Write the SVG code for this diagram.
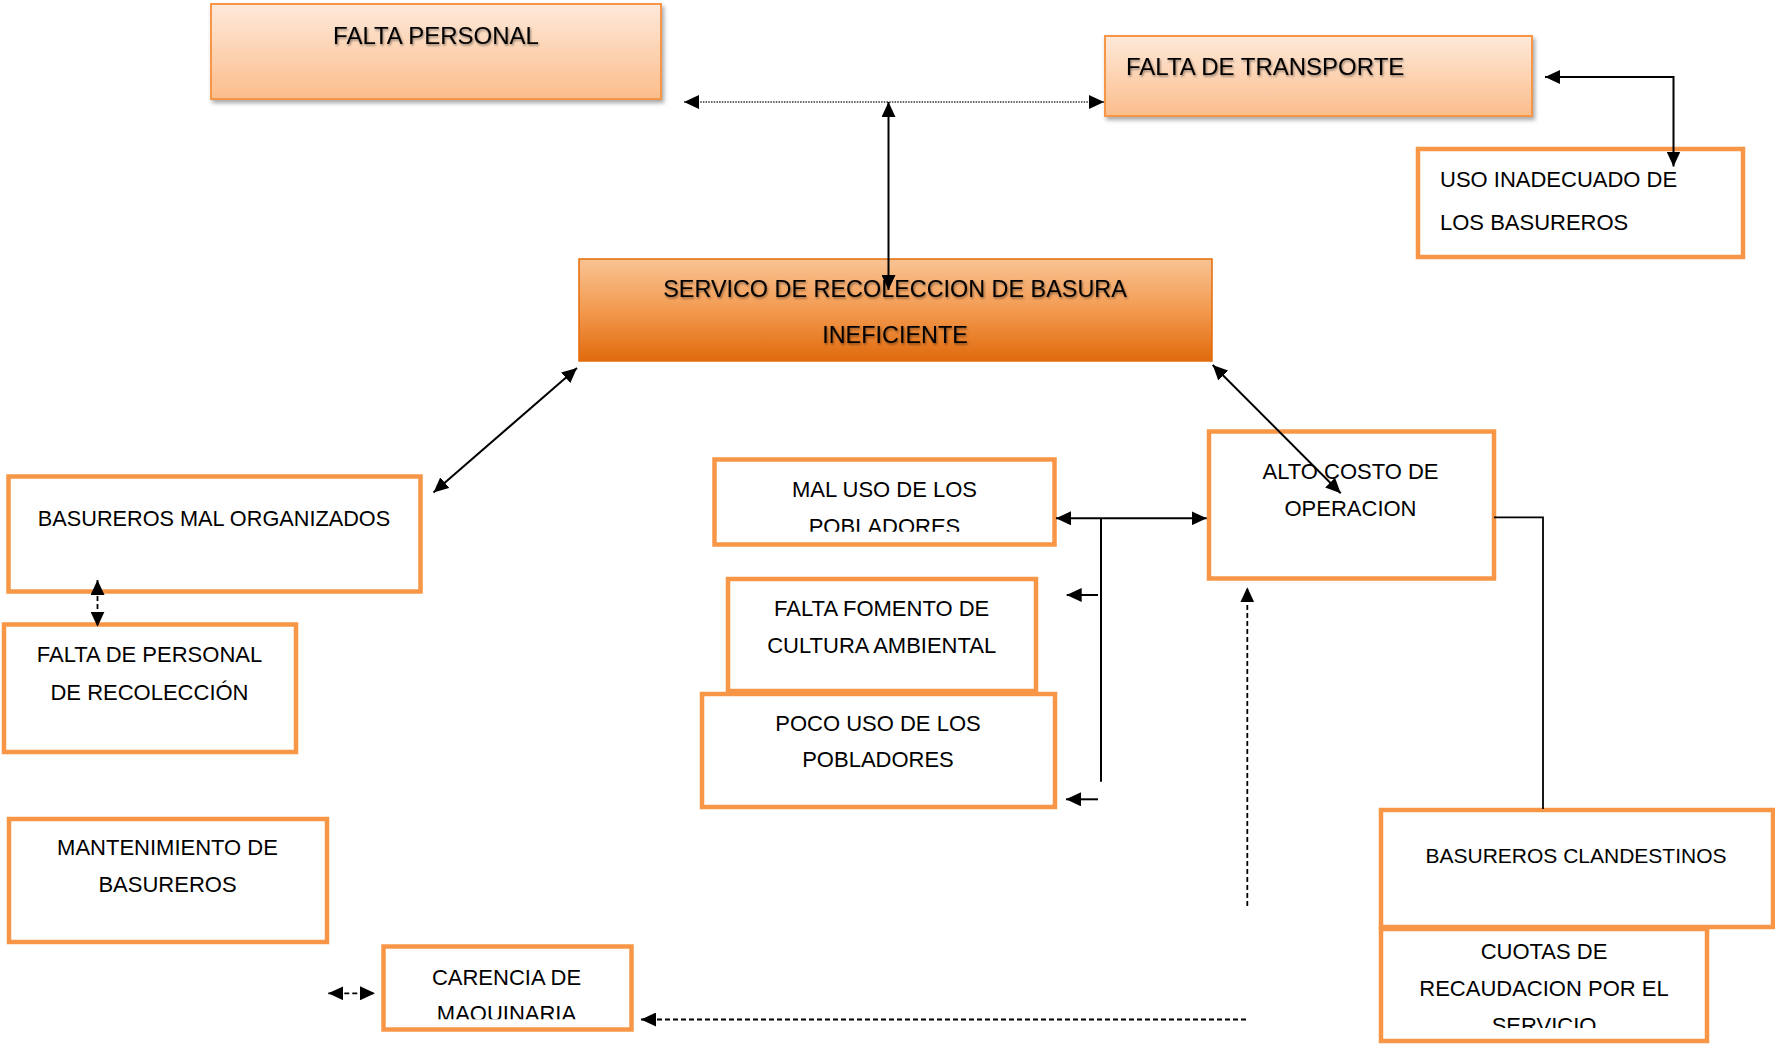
<svg xmlns="http://www.w3.org/2000/svg" width="1775" height="1044" viewBox="0 0 1775 1044">
<defs>
<linearGradient id="gLight" x1="0" y1="0" x2="0" y2="1">
<stop offset="0" stop-color="#fee9da"/>
<stop offset="1" stop-color="#fbbd8b"/>
</linearGradient>
<linearGradient id="gMain" x1="0" y1="0" x2="0" y2="1">
<stop offset="0" stop-color="#f9c393"/>
<stop offset="0.5" stop-color="#f39a50"/>
<stop offset="1" stop-color="#e06a0c"/>
</linearGradient>
<filter id="boxShadow" x="-5%" y="-10%" width="115%" height="130%">
<feDropShadow dx="2" dy="3" stdDeviation="2" flood-color="#000" flood-opacity="0.35"/>
</filter>
<filter id="txtShadow" x="-5%" y="-30%" width="110%" height="160%">
<feDropShadow dx="1" dy="1.5" stdDeviation="1.2" flood-color="#000" flood-opacity="0.45"/>
</filter>
<marker id="ah" viewBox="0 0 15 14" refX="15" refY="7" markerWidth="15" markerHeight="14" markerUnits="userSpaceOnUse" orient="auto-start-reverse">
<path d="M0,0 L15,7 L0,14 z" fill="#000"/>
</marker>
<clipPath id="clipMal"><rect x="700" y="440" width="370" height="91.7"/></clipPath>
<clipPath id="clipCar"><rect x="380" y="940" width="260" height="79.3"/></clipPath>
<clipPath id="clipCuo"><rect x="1370" y="920" width="360" height="108"/></clipPath>
<style>
.wb{fill:#fff;stroke:#f79646;stroke-width:4.5}
.lb{fill:url(#gLight);stroke:#f79646;stroke-width:2;filter:url(#boxShadow)}
.mb{fill:url(#gMain);stroke:#e46c0a;stroke-width:1.5}
text{font-family:"Liberation Sans",Arial,sans-serif;fill:#000}
.t{font-size:22px;text-anchor:middle}
.tl{font-size:22px;text-anchor:start}
.tg{font-size:23.4px;filter:url(#txtShadow)}
.c{fill:none;stroke:#000;stroke-width:2}
.cd{fill:none;stroke:#000;stroke-width:1.8;stroke-dasharray:5 3}
.co{fill:none;stroke:#333;stroke-width:1.5;stroke-dasharray:1.5 1.2}
</style>
</defs>

<g id="node-falta-personal">
<rect class="lb" x="211" y="4" width="450" height="95"/>
<text class="tg" x="436" y="43.5" text-anchor="middle" style="font-size:24px">FALTA PERSONAL</text>
</g>

<g id="node-falta-transporte">
<rect class="lb" x="1105" y="36" width="427" height="80"/>
<text class="tg" x="1126" y="75" style="font-size:24px">FALTA DE TRANSPORTE</text>
</g>

<g id="node-uso-inadecuado">
<rect class="wb" x="1418" y="149" width="325" height="108"/>
<text class="tl" x="1440" y="187">USO INADECUADO DE</text>
<text class="tl" x="1440" y="230">LOS BASUREROS</text>
</g>

<g id="node-servicio">
<rect class="mb" x="579" y="259" width="633" height="102"/>
<text class="tg" x="895" y="297" text-anchor="middle">SERVICO DE RECOLECCION DE BASURA</text>
<text class="tg" x="895" y="343" text-anchor="middle">INEFICIENTE</text>
</g>

<g id="node-basureros-mal-organizados">
<rect class="wb" x="8.5" y="476.5" width="412" height="115"/>
<text class="t" x="214" y="526" style="font-size:21.7px">BASUREROS MAL ORGANIZADOS</text>
</g>

<g id="node-falta-personal-recoleccion">
<rect class="wb" x="4" y="624.5" width="292" height="127.5"/>
<text class="t" x="149.5" y="662">FALTA DE PERSONAL</text>
<text class="t" x="149.5" y="700">DE RECOLECCIÓN</text>
</g>

<g id="node-mantenimiento">
<rect class="wb" x="9" y="819" width="318" height="123"/>
<text class="t" x="167.5" y="855">MANTENIMIENTO DE</text>
<text class="t" x="167.5" y="892">BASUREROS</text>
</g>

<g id="node-carencia">
<rect class="wb" x="383.5" y="946.5" width="248" height="83"/>
<g clip-path="url(#clipCar)">
<text class="t" x="506.5" y="985">CARENCIA DE</text>
<text class="t" x="506.5" y="1021">MAQUINARIA</text>
</g>
</g>

<g id="node-mal-uso">
<rect class="wb" x="714.5" y="459.5" width="340" height="85"/>
<g clip-path="url(#clipMal)">
<text class="t" x="884.5" y="497.3">MAL USO DE LOS</text>
<text class="t" x="884.5" y="534">POBLADORES</text>
</g>
</g>

<g id="node-falta-fomento">
<rect class="wb" x="728" y="579" width="308" height="112"/>
<text class="t" x="881.7" y="616">FALTA FOMENTO DE</text>
<text class="t" x="881.7" y="652.7">CULTURA AMBIENTAL</text>
</g>

<g id="node-poco-uso">
<rect class="wb" x="702" y="694" width="353" height="113"/>
<text class="t" x="878" y="730.7">POCO USO DE LOS</text>
<text class="t" x="878" y="767.3">POBLADORES</text>
</g>

<g id="node-alto-costo">
<rect class="wb" x="1209" y="431.5" width="285" height="147"/>
<text class="t" x="1350.5" y="479">ALTO COSTO DE</text>
<text class="t" x="1350.5" y="516">OPERACION</text>
</g>

<g id="node-clandestinos">
<rect class="wb" x="1381" y="810" width="392" height="117"/>
<text class="t" x="1576" y="863" style="font-size:21px">BASUREROS CLANDESTINOS</text>
</g>

<g id="node-cuotas">
<rect class="wb" x="1381" y="929" width="326" height="112"/>
<g clip-path="url(#clipCuo)">
<text class="t" x="1544" y="959">CUOTAS DE</text>
<text class="t" x="1544" y="996">RECAUDACION POR EL</text>
<text class="t" x="1544" y="1033">SERVICIO</text>
</g>
</g>

<g id="connectors">
<path class="co" d="M684,102 H1104" marker-start="url(#ah)" marker-end="url(#ah)"/>
<path class="c" d="M888.5,102 V290" marker-start="url(#ah)" marker-end="url(#ah)"/>
<path class="c" d="M1545,77 H1673.5 V166.5" marker-start="url(#ah)" marker-end="url(#ah)"/>
<path class="c" d="M433.5,492.5 L577,368" marker-start="url(#ah)" marker-end="url(#ah)"/>
<path class="c" d="M1212.7,365 L1340.7,493.3" marker-start="url(#ah)" marker-end="url(#ah)"/>
<path class="c" d="M1056,518.3 H1206.7" marker-start="url(#ah)" marker-end="url(#ah)"/>
<path class="c" d="M1101,518.3 V781.7"/>
<path class="c" d="M1098,595 H1066.7" marker-end="url(#ah)"/>
<path class="c" d="M1098,799.3 H1066" marker-end="url(#ah)"/>
<path class="cd" d="M1247.3,906 V587.3" marker-end="url(#ah)"/>
<path class="cd" d="M1246,1019.5 H641" marker-end="url(#ah)"/>
<path class="cd" d="M328.3,993.3 H375" marker-start="url(#ah)" marker-end="url(#ah)"/>
<path class="cd" d="M97.5,580 V626.7" marker-start="url(#ah)" marker-end="url(#ah)"/>
<path class="c" d="M1494,517.3 H1543 V809" style="stroke-width:1.8"/>
</g>
</svg>
